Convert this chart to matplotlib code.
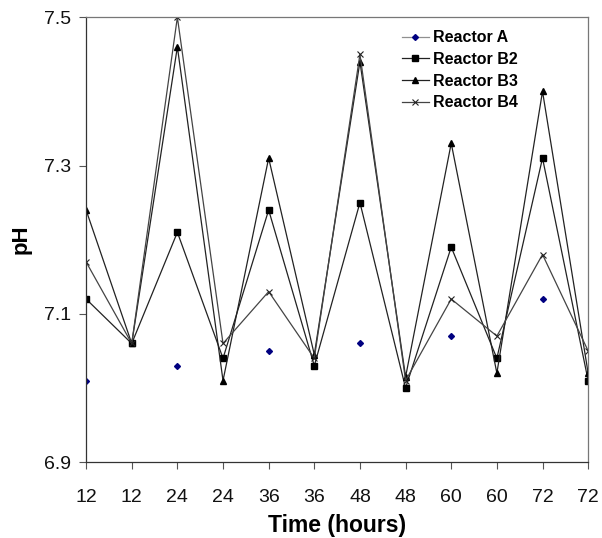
import numpy as np
import matplotlib
matplotlib.use("Agg")
import matplotlib.pyplot as plt

plt.rcParams['font.family'] = ['Liberation Sans', 'DejaVu Sans']

time_labels = ["12", "12", "24", "24", "36", "36", "48", "48", "60", "60", "72", "72"]
nan = np.nan
reactor_a = [7.01, nan, 7.03, nan, 7.05, nan, 7.06, nan, 7.07, nan, 7.12, nan]
reactor_b2 = [7.12, 7.06, 7.21, 7.04, 7.24, 7.03, 7.25, 7.00, 7.19, 7.04, 7.31, 7.01]
reactor_b3 = [7.24, 7.06, 7.46, 7.01, 7.31, 7.045, 7.44, 7.015, 7.33, 7.02, 7.40, 7.02]
reactor_b4 = [7.17, 7.06, 7.50, 7.06, 7.13, 7.04, 7.45, 7.01, 7.12, 7.07, 7.18, 7.05]

x = np.arange(len(time_labels))

fig = plt.figure(figsize=(6.02, 5.38), dpi=100)
ax = fig.add_axes([0.143, 0.141, 0.834, 0.827])

ax.plot(x, reactor_a, color="#909090", lw=0.9, marker="D", ms=3,
        mfc="#000080", mec="#000080", label="Reactor A")
ax.plot(x, reactor_b2, color="#222222", lw=0.9, marker="s", ms=3.8,
        mfc="black", mec="black", label="Reactor B2")
ax.plot(x, reactor_b3, color="#222222", lw=0.9, marker="^", ms=4,
        mfc="black", mec="black", label="Reactor B3")
ax.plot(x, reactor_b4, color="#444444", lw=0.9, marker="x", ms=4.5,
        mew=0.8, mec="#222222", label="Reactor B4")

ax.set_xlim(0, 11)
ax.set_ylim(6.9, 7.5)
ax.set_yticks([6.9, 7.1, 7.3, 7.5])
ax.set_yticklabels(["6.9", "7.1", "7.3", "7.5"])
ax.set_xticks(x)
ax.set_xticklabels(time_labels)
ax.tick_params(axis="both", labelsize=14, length=5, width=0.8,
               direction="out", colors="#555555", labelcolor="#111111")
ax.tick_params(axis="x", pad=14)
ax.tick_params(axis="y", pad=6)

for s in ax.spines.values():
    s.set_color("#777777")
    s.set_linewidth(0.9)
ax.spines["left"].set_color("#333333")
ax.spines["bottom"].set_color("#333333")

ax.set_xlabel("Time (hours)", fontsize=16.5, fontweight="bold", labelpad=6)
ax.set_ylabel("pH", fontsize=16, fontweight="bold", labelpad=9)

leg = ax.legend(loc="upper left", bbox_to_anchor=(0.6, 1.003), frameon=False,
                handlelength=1.7, handletextpad=0.25, labelspacing=0.42,
                prop={"weight": "bold", "size": 11.5})

fig.savefig("out.png", dpi=100)
